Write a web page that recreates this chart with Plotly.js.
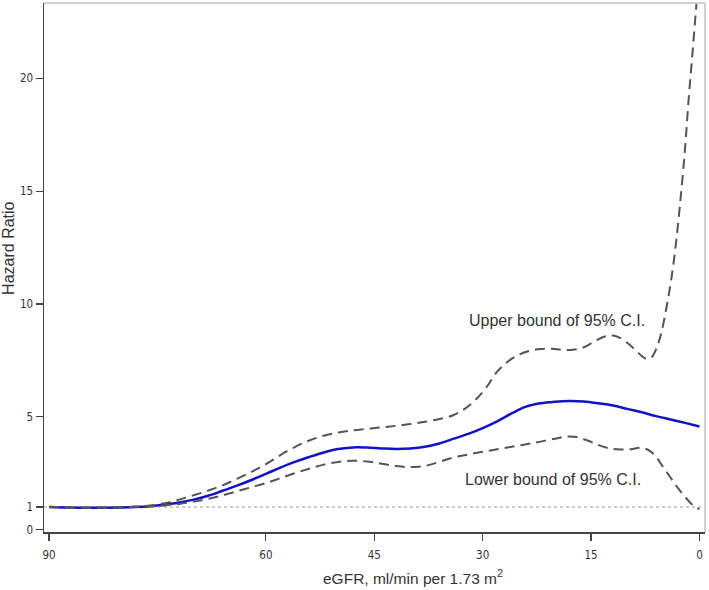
<!DOCTYPE html>
<html>
<head>
<meta charset="utf-8">
<script src="https://cdn.plot.ly/plotly-3.0.1.min.js"></script>
<style>html,body{margin:0;padding:0;background:#fff;}#chart{width:709px;height:590px;}</style>
</head>
<body>
<div id="chart"></div>
<script>
// eGFR values (x) and hazard ratio estimates
const egfrMid = [90, 88, 84, 80, 78, 76, 74, 72, 70, 68, 66, 64, 62, 60, 58, 56, 54, 52, 50, 47.5, 46, 44, 42, 40, 38, 36, 35, 34, 32, 30, 28, 26, 24, 22, 20, 18, 16, 14, 12, 10, 8, 6, 4, 2, 0];
const hrMid   = [1.0, 0.98, 0.97, 0.98, 1.0, 1.04, 1.11, 1.2, 1.33, 1.5, 1.72, 1.95, 2.2, 2.47, 2.75, 3.0, 3.22, 3.42, 3.57, 3.65, 3.64, 3.6, 3.57, 3.59, 3.67, 3.82, 3.92, 4.03, 4.24, 4.5, 4.8, 5.15, 5.45, 5.6, 5.67, 5.7, 5.68, 5.6, 5.5, 5.35, 5.2, 5.03, 4.88, 4.73, 4.57];

const egfrUp = [90, 86, 82, 78, 76, 74, 72, 70, 68, 66, 64, 62, 60, 58, 56, 54, 52, 50, 48, 46, 44, 42, 40, 38, 36, 34, 32.5, 31, 29.5, 28, 26.5, 25, 23.5, 22, 20.5, 19, 17.5, 16, 14.5, 13, 12, 11, 10, 9, 8, 7.3, 6.6, 6, 5.3, 4.6, 4, 3.4, 2.7, 2, 1.5, 1, 0.5, 0];
const hrUp   = [1.0, 0.97, 0.98, 1.02, 1.07, 1.17, 1.33, 1.52, 1.73, 1.96, 2.25, 2.56, 2.9, 3.3, 3.66, 3.95, 4.16, 4.3, 4.4, 4.46, 4.53, 4.6, 4.68, 4.78, 4.9, 5.08, 5.35, 5.75, 6.3, 7.0, 7.45, 7.75, 7.92, 8.0, 8.02, 7.97, 7.97, 8.08, 8.35, 8.57, 8.6, 8.5, 8.28, 8.0, 7.7, 7.56, 7.65, 8.0, 8.7, 9.8, 10.9, 12.3, 14.4, 16.9, 19.1, 21.0, 23.0, 25.0];

const egfrLow = [90, 86, 82, 78, 76, 74, 72, 70, 68, 66, 64, 62, 60, 58, 56, 54, 52, 50, 48, 46, 44, 42, 40, 38, 36, 34, 32, 30, 28, 26, 24, 22, 20, 18.5, 17, 15.5, 14, 12.5, 11, 9.5, 8.2, 7.2, 6.2, 5.2, 4, 3, 2, 1, 0.4, 0];
const hrLow   = [1.0, 0.97, 0.98, 1.0, 1.03, 1.07, 1.14, 1.24, 1.36, 1.52, 1.7, 1.88, 2.06, 2.28, 2.5, 2.7, 2.88, 3.0, 3.05, 3.02, 2.92, 2.82, 2.77, 2.82, 3.0, 3.2, 3.33, 3.45, 3.56, 3.67, 3.78, 3.9, 4.03, 4.12, 4.1, 3.95, 3.75, 3.6, 3.55, 3.56, 3.63, 3.55, 3.3, 2.85, 2.3, 1.85, 1.45, 1.1, 0.95, 0.93];

const xTicks = [90, 60, 45, 30, 15, 0];
const yTicks = [0, 1, 5, 10, 15, 20];
const refValue = 1;

const xTitle = 'eGFR, ml/min per 1.73 m<sup>2</sup>';
const yTitle = 'Hazard Ratio';
const labelUpper = {text: 'Upper bound of 95% C.I.', x: 19.78, y: 9.29};
const labelLower = {text: 'Lower bound of 95% C.I.', x: 20.33, y: 2.21};

const dashStyle = {color: '#555555', width: 2, dash: '10px,6px', shape: 'spline', smoothing: 1};

const traces = [
  {x: egfrMid, y: hrMid, mode: 'lines', line: {color: '#1212c8', width: 2.5, shape: 'spline', smoothing: 1}, hoverinfo: 'skip'},
  {x: egfrUp, y: hrUp, mode: 'lines', line: dashStyle, hoverinfo: 'skip'},
  {x: egfrLow, y: hrLow, mode: 'lines', line: dashStyle, hoverinfo: 'skip'}
];

const tickFont = {family: 'DejaVu Sans Condensed, DejaVu Sans', size: 11.5, color: '#333'};
const textFont = {family: 'Liberation Sans, Arial', size: 16, color: '#333'};

const layout = {
  width: 709, height: 590,
  margin: {l: 44, r: 4, t: 3, b: 58},
  paper_bgcolor: '#fff', plot_bgcolor: '#fff',
  showlegend: false,
  xaxis: {
    range: [90.7, -0.76], tickvals: xTicks, ticktext: xTicks.map(String),
    showgrid: false, zeroline: false, showline: true, linecolor: '#444', linewidth: 1.5,
    ticks: 'outside', ticklen: 7, tickwidth: 1.2, tickcolor: '#444', tickfont: tickFont,
    ticklabelstandoff: 5
  },
  yaxis: {
    range: [-0.106, 23.34], tickvals: yTicks, ticktext: yTicks.map(String),
    showgrid: false, zeroline: false, showline: true, linecolor: '#444', linewidth: 1.5,
    ticks: 'outside', ticklen: 7, tickwidth: 1.2, tickcolor: '#444', tickfont: tickFont
  },
  shapes: [
    {type: 'line', xref: 'paper', yref: 'y', x0: 0, x1: 1, y0: refValue, y1: refValue, line: {color: '#999', width: 1, dash: 'dot'}, layer: 'below'},
    {type: 'line', xref: 'paper', yref: 'paper', x0: 0, x1: 1, y0: 1, y1: 1, line: {color: '#d0d0d0', width: 2}},
    {type: 'line', xref: 'paper', yref: 'paper', x0: 1, x1: 1, y0: 0, y1: 1, line: {color: '#d0d0d0', width: 2}}
  ],
  annotations: [
    ...[labelUpper, labelLower].map(a => ({
      text: a.text, x: a.x, y: a.y, xref: 'x', yref: 'y', showarrow: false, font: textFont
    })),
    {text: xTitle, xref: 'paper', yref: 'paper', x: 0.558, y: -0.085, xanchor: 'center', yanchor: 'middle', showarrow: false, font: {family: 'Liberation Sans, Arial', size: 15.5, color: '#333'}},
    {text: yTitle, xref: 'paper', yref: 'paper', x: -0.053, y: 0.537, xanchor: 'center', yanchor: 'middle', textangle: -90, showarrow: false, font: textFont}
  ]
};

Plotly.newPlot('chart', traces, layout, {displayModeBar: false, staticPlot: true});
</script>
</body>
</html>
